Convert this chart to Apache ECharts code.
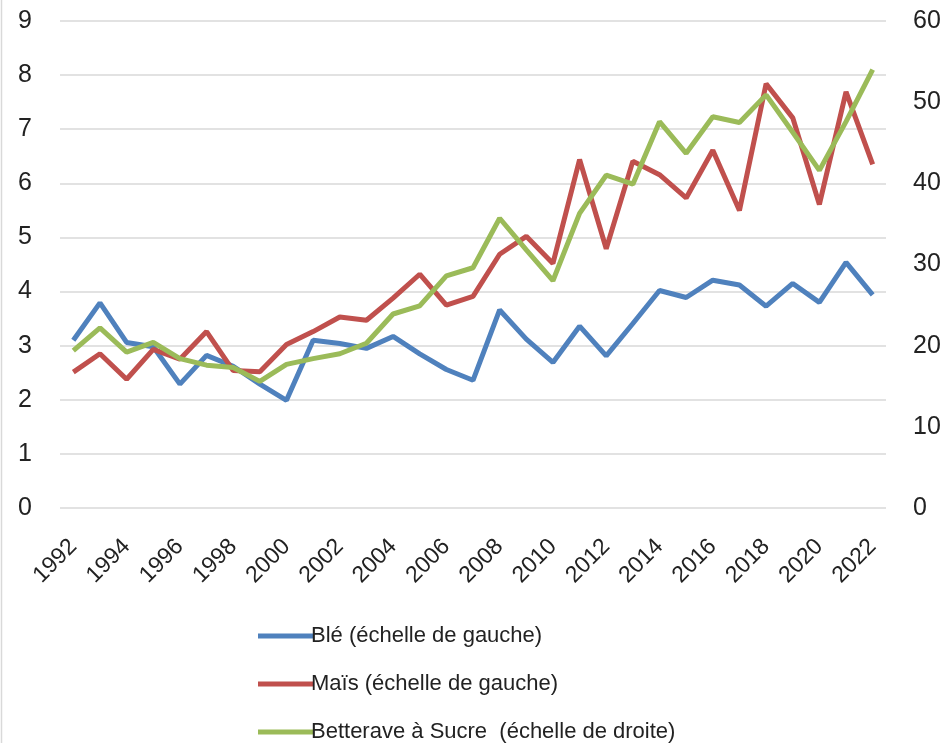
<!DOCTYPE html>
<html><head><meta charset="utf-8">
<script src="https://cdn.jsdelivr.net/npm/echarts@6/dist/echarts.min.js"></script>
<style>html,body{margin:0;padding:0;background:#fff}#c{width:945px;height:743px}</style>
</head><body><div id="c"></div>
<script>
const years = [];
for (let y = 1992; y <= 2022; y++) years.push(String(y));
const ble = [3.10,3.79,3.06,2.98,2.29,2.82,2.62,2.29,1.99,3.10,3.04,2.95,3.17,2.85,2.56,2.36,3.66,3.12,2.69,3.36,2.81,3.41,4.02,3.89,4.21,4.12,3.73,4.15,3.80,4.54,3.94];
const mais = [2.51,2.85,2.38,2.93,2.75,3.26,2.54,2.52,3.02,3.26,3.53,3.47,3.88,4.32,3.75,3.91,4.69,5.02,4.52,6.44,4.79,6.41,6.16,5.73,6.61,5.50,7.84,7.21,5.61,7.69,6.35];
const betterave = [19.4,22.2,19.2,20.4,18.4,17.6,17.3,15.6,17.7,18.4,19.0,20.3,23.9,24.9,28.6,29.6,35.7,31.8,28.0,36.3,41.0,39.9,47.6,43.7,48.2,47.5,50.9,46.3,41.6,47.6,54.0];
const names = ['Blé (échelle de gauche)','Maïs (échelle de gauche)','Betterave à Sucre  (échelle de droite)'];
const font = 'Liberation Sans, Arial, sans-serif';
const legendTops = [620, 668, 716];
const chart = echarts.init(document.getElementById('c'));
chart.setOption({
  animation:false,
  backgroundColor:'#fff',
  textStyle:{fontFamily:font},
  graphic:[{type:'rect',shape:{x:1.5,y:-5,width:960,height:760},style:{fill:'none',stroke:'#d9d9d9',lineWidth:1.5},silent:true}],
  grid:{left:60,right:59,top:21,bottom:235},
  legend:names.map((n,i)=>({orient:'vertical',left:253,top:legendTops[i],itemWidth:55,itemHeight:5,icon:'rect',
    textStyle:{fontSize:22,color:'#222',fontFamily:font,padding:[0,0,0,-7]},data:[n]})),
  xAxis:{type:'category',data:years,boundaryGap:true,
    axisLine:{show:false},axisTick:{show:false},
    axisLabel:{interval:1,rotate:45,fontSize:23,color:'#222',margin:35}},
  yAxis:[
    {type:'value',min:0,max:9,interval:1,position:'left',
     axisLabel:{fontSize:25,color:'#222',margin:28},axisLine:{show:false},axisTick:{show:false},
     splitLine:{lineStyle:{color:'#d9d9d9',width:1.5}}},
    {type:'value',min:0,max:60,interval:10,position:'right',
     axisLabel:{fontSize:25,color:'#222',margin:27},axisLine:{show:false},axisTick:{show:false},
     splitLine:{show:false}}
  ],
  series:[
    {name:names[0],type:'line',data:ble,yAxisIndex:0,symbol:'none',lineStyle:{width:5,color:'#4f81bd'},itemStyle:{color:'#4f81bd'}},
    {name:names[1],type:'line',data:mais,yAxisIndex:0,symbol:'none',lineStyle:{width:5,color:'#c0504d'},itemStyle:{color:'#c0504d'}},
    {name:names[2],type:'line',data:betterave,yAxisIndex:1,symbol:'none',lineStyle:{width:5,color:'#9bbb59'},itemStyle:{color:'#9bbb59'}}
  ]
});
</script></body></html>
